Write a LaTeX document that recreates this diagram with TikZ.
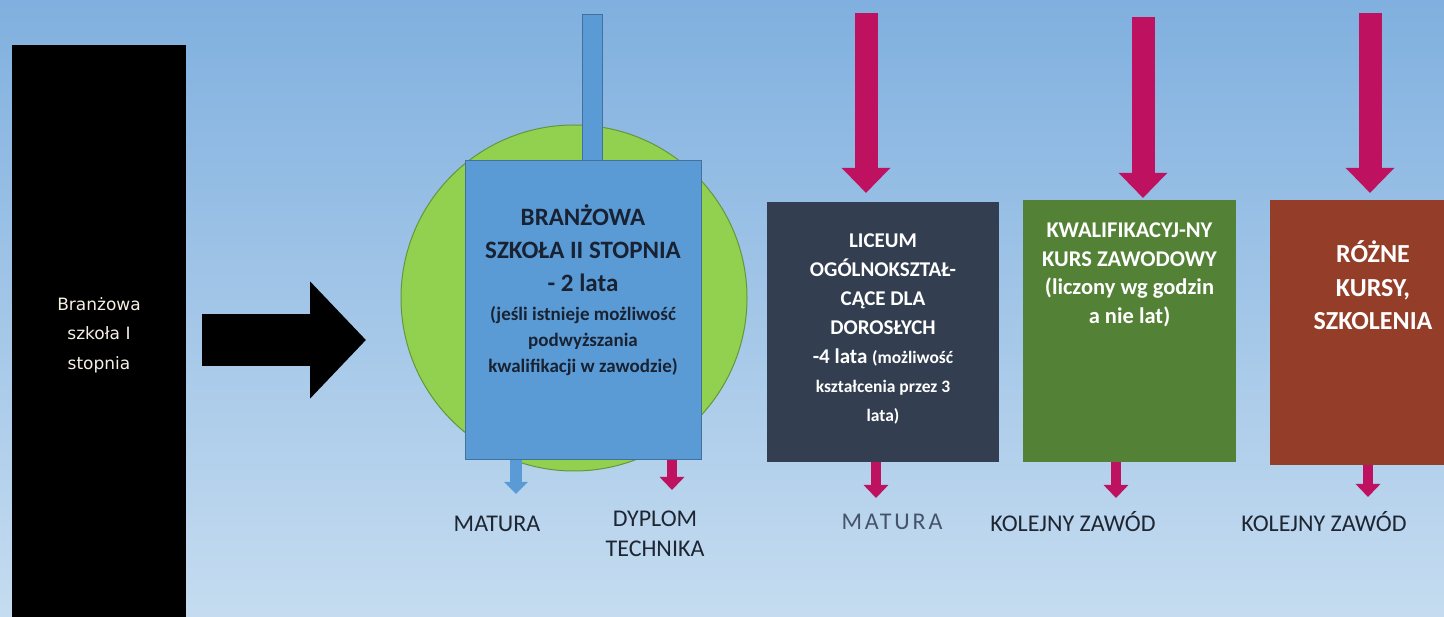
\documentclass[tikz,border=0pt]{standalone}
\usepackage{fontspec}
\setmainfont{Carlito}
\newfontfamily\tahomafont{DejaVu Sans}
\usepackage{tikz}
\usetikzlibrary{arrows.meta, positioning, shapes}

\definecolor{bgtop}{RGB}{128,176,223}
\definecolor{bgbot}{RGB}{197,220,240}
\definecolor{arrowred}{RGB}{190,17,96}
\definecolor{boxblue}{RGB}{91,155,213}
\definecolor{boxblueedge}{RGB}{65,113,156}
\definecolor{circlegreen}{RGB}{146,208,80}
\definecolor{circleedge}{RGB}{100,150,60}
\definecolor{boxdark}{RGB}{51,63,80}
\definecolor{boxgreen}{RGB}{83,129,53}
\definecolor{boxbrown}{RGB}{148,62,42}
\definecolor{navytext}{RGB}{24,34,50}
\definecolor{labeltext}{RGB}{30,38,50}
\definecolor{maturagray}{RGB}{68,84,106}

\begin{document}
\begin{tikzpicture}[x=1pt, y=-1pt, every node/.style={inner sep=0pt, outer sep=0pt}]

\tikzstyle{school_box}=[rectangle, minimum height=262pt]
\tikzstyle{box_text}=[align=center, text=white, anchor=north]
\tikzstyle{down_arrow}=[draw=arrowred, line width=23pt, -{Triangle[width=47pt,length=25pt]}]
\tikzstyle{small_arrow}=[draw=arrowred, line width=10pt, -{Triangle[width=24pt,length=13pt]}]
\tikzstyle{exit_label}=[align=center, text=labeltext, font=\fontsize{24}{30}\selectfont]

\useasboundingbox (0,0) rectangle (1444,617);
\shade[top color=bgtop, bottom color=bgbot] (0,0) rectangle (1444,617);

% szkola I stopnia
\node[school_box, fill=black, minimum width=174pt, minimum height=580pt, align=center,
      text={rgb,255:red,245;green,240;blue,228}, font=\tahomafont\fontsize{17}{29.5}\selectfont]
      (szkola1) at (99,335) {Branżowa\\szkoła I\\stopnia};

\coordinate (arr_start) at (202,340);
\coordinate (arr_end) at (366,340);
\draw[line width=52pt, -{Triangle[width=114pt,length=56pt]}] (arr_start) -- (arr_end);

% szkola II stopnia
\node[circle, fill=circlegreen, draw=circleedge, line width=1pt, minimum size=346pt] (kolo) at (574,298) {};
\node[rectangle, fill=boxblue, draw=boxblueedge, line width=0.8pt, minimum width=20pt, minimum height=147pt] (stick) at (592,87.5) {};
\node[school_box, fill=boxblue, draw=boxblueedge, line width=1pt, minimum width=236pt, minimum height=299pt] (szkola2) at (583,310.5) {};
\node[box_text, text=navytext, font=\bfseries\fontsize{19}{26}\selectfont, below=44pt of szkola2.north]
      {{\fontsize{25}{33}\selectfont BRANŻOWA}\\[7pt]
       {\fontsize{25}{33}\selectfont SZKOŁA II STOPNIA}\\[7pt]
       {\fontsize{25}{33}\selectfont - 2 lata}\\[3pt]
       (jeśli istnieje możliwość\\podwyższania\\kwalifikacji w zawodzie)};

\coordinate (tip_matura1) at (516,494);
\coordinate (tip_dyplom) at (672,490);
\draw[small_arrow, draw=boxblue, line width=12pt, -{Triangle[width=23pt,length=12pt]}] (szkola2.south -| tip_matura1) -- (tip_matura1);
\draw[small_arrow] (szkola2.south -| tip_dyplom) -- (tip_dyplom);
\node[exit_label] (matura1) at (497,524) {MATURA};
\node[exit_label, anchor=north] (dyplom) at (655,511) {DYPLOM\\TECHNIKA};

% liceum
\node[school_box, fill=boxdark, minimum width=232pt, minimum height=260pt] (liceum) at (883,332) {};
\node[box_text, font=\bfseries\fontsize{21}{29}\selectfont, below=32pt of liceum.north]
      {LICEUM\\OGÓLNOKSZTAŁ-\\CĄCE DLA\\DOROSŁYCH\\
       -4 lata {\fontsize{17.5}{24}\selectfont (możliwość}\\
       {\fontsize{17.5}{24}\selectfont kształcenia przez 3}\\
       {\fontsize{17.5}{24}\selectfont lata)}};
\coordinate (top1) at (866,13);
\coordinate (tip1) at (866,193);
\draw[down_arrow] (top1) -- (tip1);
\coordinate (tip_matura2) at (876,498);
\draw[small_arrow] (liceum.south -| tip_matura2) -- (tip_matura2);
\node[exit_label, text=maturagray, font=\addfontfeatures{LetterSpace=12}\fontsize{24}{30}\selectfont] (matura2) at (892,522) {MATURA};

% kurs zawodowy
\node[school_box, fill=boxgreen, minimum width=213pt] (kurs) at (1129.5,331) {};
\node[box_text, font=\bfseries\fontsize{22.5}{28.5}\selectfont, below=23pt of kurs.north]
      {KWALIFIKACYJ-NY\\KURS ZAWODOWY\\(liczony wg godzin\\a nie lat)};
\coordinate (top2) at (1143,17);
\coordinate (tip2) at (1143,198);
\draw[down_arrow] (top2) -- (tip2);
\coordinate (tip_zawod1) at (1116,498);
\draw[small_arrow] (kurs.south -| tip_zawod1) -- (tip_zawod1);
\node[exit_label] (zawod1) at (1073,522) {KOLEJNY ZAWÓD};

% kursy, szkolenia
\node[school_box, fill=boxbrown, minimum width=180pt, minimum height=265pt] (kursy) at (1360,332.5) {};
\node[box_text, font=\bfseries\fontsize{26}{33.5}\selectfont, below=41pt of kursy.north, xshift=13pt]
      {RÓŻNE\\KURSY,\\SZKOLENIA};
\coordinate (top3) at (1370,13);
\coordinate (tip3) at (1370,193);
\draw[down_arrow] (top3) -- (tip3);
\coordinate (tip_zawod2) at (1368,497);
\draw[small_arrow] (kursy.south -| tip_zawod2) -- (tip_zawod2);
\node[exit_label] (zawod2) at (1324,522) {KOLEJNY ZAWÓD};

\end{tikzpicture}
\end{document}
